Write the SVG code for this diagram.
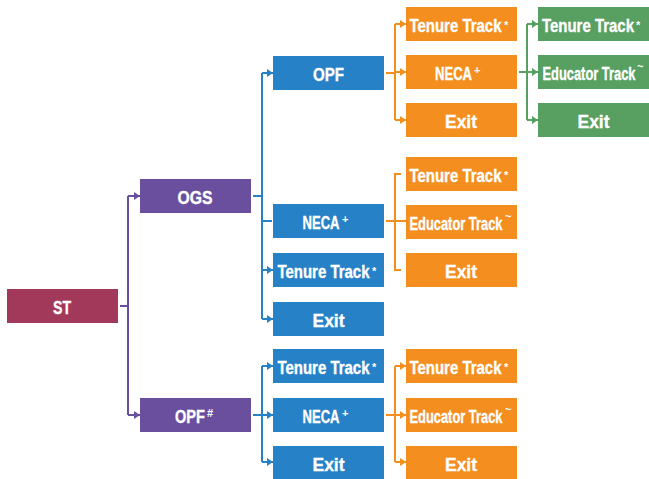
<svg xmlns="http://www.w3.org/2000/svg" width="649" height="479" viewBox="0 0 649 479">
<style>
.t{font-family:"Liberation Sans",Arial,sans-serif;font-weight:bold;font-size:18px;fill:#fff;stroke:#fff;stroke-width:0.35;text-anchor:middle}
.s{font-family:"Liberation Sans",Arial,sans-serif;font-weight:bold;font-size:11px;fill:#fff}
.st{fill:#A3395A}.pu{fill:#6A4F9E}.bl{fill:#2781C6}.or{fill:#F48E1F}.gr{fill:#589F62}
.c{fill:none;stroke-width:2}
.cp{stroke:#6A4F9E}.cb{stroke:#2781C6}.co{stroke:#F48E1F}.cg{stroke:#589F62}
</style>
<defs>
<marker id="ap" markerUnits="userSpaceOnUse" markerWidth="6" markerHeight="8" refX="6" refY="4" orient="auto"><path d="M0,0 L6,4 L0,8 z" fill="#6A4F9E"/></marker>
<marker id="ab" markerUnits="userSpaceOnUse" markerWidth="6" markerHeight="8" refX="6" refY="4" orient="auto"><path d="M0,0 L6,4 L0,8 z" fill="#2781C6"/></marker>
<marker id="ao" markerUnits="userSpaceOnUse" markerWidth="6" markerHeight="8" refX="6" refY="4" orient="auto"><path d="M0,0 L6,4 L0,8 z" fill="#F48E1F"/></marker>
<marker id="ag" markerUnits="userSpaceOnUse" markerWidth="6" markerHeight="8" refX="6" refY="4" orient="auto"><path d="M0,0 L6,4 L0,8 z" fill="#589F62"/></marker>
</defs>
<g id="connectors">
<path class="c cp" d="M120,306 H128 M128,196 V415"/>
<path class="c cp" d="M128,196 H140" marker-end="url(#ap)"/>
<path class="c cp" d="M128,415 H140" marker-end="url(#ap)"/>
<path class="c cb" d="M253,196 H262 M262,73 V319 M262,221 H272"/>
<path class="c cb" d="M262,73 H273" marker-end="url(#ab)"/>
<path class="c cb" d="M262,270 H273" marker-end="url(#ab)"/>
<path class="c cb" d="M262,319 H273" marker-end="url(#ab)"/>
<path class="c cb" d="M253,415 H262 M262,366 V462"/>
<path class="c cb" d="M262,366 H273" marker-end="url(#ab)"/>
<path class="c cb" d="M262,415 H273" marker-end="url(#ab)"/>
<path class="c cb" d="M262,462 H273" marker-end="url(#ab)"/>
<path class="c co" d="M386,73 H395 M395,24 V120"/>
<path class="c co" d="M395,24 H406" marker-end="url(#ao)"/>
<path class="c co" d="M395,72 H406" marker-end="url(#ao)"/>
<path class="c co" d="M395,120 H406" marker-end="url(#ao)"/>
<path class="c co" d="M386,221 H406 M401,174 H395 V270 H401"/>
<path class="c co" d="M386,415 H395 M395,366 V462"/>
<path class="c co" d="M395,366 H406" marker-end="url(#ao)"/>
<path class="c co" d="M395,415 H406" marker-end="url(#ao)"/>
<path class="c co" d="M395,462 H406" marker-end="url(#ao)"/>
<path class="c cg" d="M519,72 H527 M527,24 V120"/>
<path class="c cg" d="M527,24 H538" marker-end="url(#ag)"/>
<path class="c cg" d="M527,72 H538" marker-end="url(#ag)"/>
<path class="c cg" d="M527,120 H538" marker-end="url(#ag)"/>
</g>
<g id="st"><rect class="st" x="7" y="289" width="111" height="34"/><text class="t" x="62" y="314" textLength="18" lengthAdjust="spacingAndGlyphs">ST</text></g>
<g id="ogs"><rect class="pu" x="140" y="179" width="111" height="34"/><text class="t" x="195" y="204" textLength="35" lengthAdjust="spacingAndGlyphs">OGS</text></g>
<g id="opf2"><rect class="pu" x="140" y="398" width="111" height="34"/><text class="t" x="190" y="423" textLength="30" lengthAdjust="spacingAndGlyphs">OPF</text><text class="s" x="207" y="417" font-size="9">#</text></g>
<g id="b-opf"><rect class="bl" x="273" y="56" width="111" height="34"/><text class="t" x="328.5" y="81" textLength="31" lengthAdjust="spacingAndGlyphs">OPF</text></g>
<g id="b-neca1"><rect class="bl" x="273" y="204" width="111" height="34"/><text class="t" x="321" y="229" textLength="37" lengthAdjust="spacingAndGlyphs">NECA</text><text class="s" x="342" y="223">+</text></g>
<g id="b-tt1"><rect class="bl" x="273" y="253" width="111" height="34"/><text class="t" x="323.5" y="278" textLength="92" lengthAdjust="spacingAndGlyphs">Tenure Track</text><text class="s" x="372" y="275">*</text></g>
<g id="b-exit1"><rect class="bl" x="273" y="302" width="111" height="34"/><text class="t" x="328.5" y="327" textLength="32" lengthAdjust="spacingAndGlyphs">Exit</text></g>
<g id="b-tt2"><rect class="bl" x="273" y="349" width="111" height="34"/><text class="t" x="323.5" y="374" textLength="92" lengthAdjust="spacingAndGlyphs">Tenure Track</text><text class="s" x="372" y="371">*</text></g>
<g id="b-neca2"><rect class="bl" x="273" y="398" width="111" height="34"/><text class="t" x="321" y="423" textLength="37" lengthAdjust="spacingAndGlyphs">NECA</text><text class="s" x="342" y="417">+</text></g>
<g id="b-exit2"><rect class="bl" x="273" y="446" width="111" height="33"/><text class="t" x="328.5" y="471" textLength="32" lengthAdjust="spacingAndGlyphs">Exit</text></g>
<g id="o-tt1"><rect class="or" x="406" y="7" width="111" height="34"/><text class="t" x="455.5" y="32" textLength="92" lengthAdjust="spacingAndGlyphs">Tenure Track</text><text class="s" x="504" y="29">*</text></g>
<g id="o-neca"><rect class="or" x="406" y="55" width="111" height="34"/><text class="t" x="453.5" y="80" textLength="37" lengthAdjust="spacingAndGlyphs">NECA</text><text class="s" x="474" y="74">+</text></g>
<g id="o-exit1"><rect class="or" x="406" y="103" width="111" height="34"/><text class="t" x="461" y="128" textLength="32" lengthAdjust="spacingAndGlyphs">Exit</text></g>
<g id="o-tt2"><rect class="or" x="406" y="157" width="111" height="34"/><text class="t" x="455.5" y="182" textLength="92" lengthAdjust="spacingAndGlyphs">Tenure Track</text><text class="s" x="504" y="179">*</text></g>
<g id="o-et1"><rect class="or" x="406" y="205" width="111" height="34"/><text class="t" x="456" y="230" font-size="16" textLength="93" lengthAdjust="spacingAndGlyphs">Educator Track</text><text class="s" x="505" y="220" font-size="9">~</text></g>
<g id="o-exit2"><rect class="or" x="406" y="253" width="111" height="34"/><text class="t" x="461" y="278" textLength="32" lengthAdjust="spacingAndGlyphs">Exit</text></g>
<g id="o-tt3"><rect class="or" x="406" y="349" width="111" height="34"/><text class="t" x="455.5" y="374" textLength="92" lengthAdjust="spacingAndGlyphs">Tenure Track</text><text class="s" x="504" y="371">*</text></g>
<g id="o-et2"><rect class="or" x="406" y="398" width="111" height="34"/><text class="t" x="456" y="423" font-size="16" textLength="93" lengthAdjust="spacingAndGlyphs">Educator Track</text><text class="s" x="505" y="413" font-size="9">~</text></g>
<g id="o-exit3"><rect class="or" x="406" y="446" width="111" height="33"/><text class="t" x="461" y="471" textLength="32" lengthAdjust="spacingAndGlyphs">Exit</text></g>
<g id="g-tt"><rect class="gr" x="538" y="7" width="111" height="34"/><text class="t" x="588" y="32" textLength="92" lengthAdjust="spacingAndGlyphs">Tenure Track</text><text class="s" x="636" y="29">*</text></g>
<g id="g-et"><rect class="gr" x="538" y="55" width="111" height="34"/><text class="t" x="589" y="80" font-size="16" textLength="93" lengthAdjust="spacingAndGlyphs">Educator Track</text><text class="s" x="637" y="70" font-size="9">~</text></g>
<g id="g-exit"><rect class="gr" x="538" y="103" width="111" height="34"/><text class="t" x="593.5" y="128" textLength="32" lengthAdjust="spacingAndGlyphs">Exit</text></g>
</svg>
